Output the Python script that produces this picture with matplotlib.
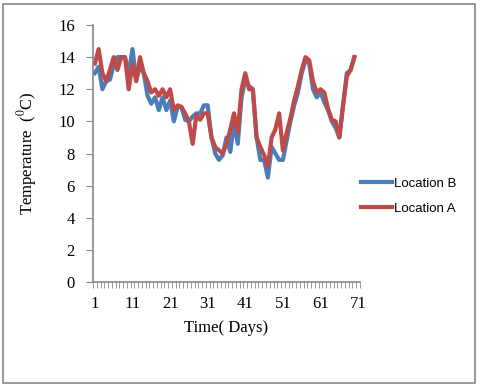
import numpy as np
import matplotlib
matplotlib.use('Agg')
import matplotlib.pyplot as plt
from matplotlib.patches import Rectangle
from matplotlib.ticker import MultipleLocator, FixedLocator

plt.rcParams['mathtext.fontset'] = 'stix'

days = np.arange(1, 71)
loc_b = [13.0, 13.4, 12.0, 12.5, 12.6, 13.5, 14.0, 14.0, 14.0, 13.0,
         14.5, 12.6, 13.4, 13.0, 11.6, 11.1, 11.5, 10.7, 11.5, 10.7,
         11.3, 10.0, 10.9, 10.9, 10.1, 10.0, 10.3, 10.5, 10.5, 11.0,
         11.0, 9.0, 8.0, 7.6, 7.9, 9.0, 8.1, 9.9, 8.6, 11.5,
         12.6, 12.2, 12.0, 9.0, 7.6, 7.6, 6.5, 8.4, 8.0, 7.6,
         7.6, 8.8, 10.0, 11.0, 11.8, 13.0, 13.8, 13.6, 12.0, 11.5,
         11.8, 11.2, 10.7, 10.0, 9.6, 9.0, 11.0, 13.0, 13.2, 14.0]
loc_a = [13.6, 14.5, 13.0, 12.5, 13.2, 14.0, 13.2, 14.0, 14.0, 12.0,
         13.6, 12.5, 14.0, 13.0, 12.5, 11.8, 12.0, 11.6, 12.0, 11.5,
         12.0, 10.7, 11.0, 10.9, 10.5, 10.0, 8.6, 10.4, 10.1, 10.5,
         10.5, 9.0, 8.4, 8.2, 8.0, 8.6, 9.5, 10.5, 9.3, 12.0,
         13.0, 12.0, 12.0, 9.0, 8.4, 7.9, 7.2, 9.0, 9.5, 10.5,
         8.2, 9.3, 10.2, 11.3, 12.2, 13.2, 14.0, 13.8, 12.5, 11.8,
         12.0, 11.8, 10.8, 10.1, 10.0, 9.0, 11.0, 12.8, 13.2, 14.0]
xticks = [1, 11, 21, 31, 41, 51, 61, 71]

fig = plt.figure(figsize=(4.8, 3.87), dpi=100)
ax = fig.add_axes([93/480, 1-282/387, 267/480, 257/387])

ax.plot(days, loc_b, color='#4A7EBB', lw=3, label='Location B', solid_joinstyle='round')
ax.plot(days, loc_a, color='#BE4B48', lw=3, label='Location A', solid_joinstyle='round')

ax.set_xlim(0.5, 71.5)
ax.set_ylim(0, 16)
ax.yaxis.set_major_locator(MultipleLocator(2))
ax.xaxis.set_major_locator(FixedLocator(xticks))
ax.xaxis.set_minor_locator(FixedLocator(np.arange(0.5, 72, 1)))

gray = '#868686'
for s in ['top', 'right']:
    ax.spines[s].set_visible(False)
for s in ['left', 'bottom']:
    ax.spines[s].set_color(gray)
    ax.spines[s].set_linewidth(1.2)
ax.tick_params(axis='x', which='major', length=0, pad=10)
ax.tick_params(axis='x', which='minor', length=4, color=gray, direction='out')
ax.tick_params(axis='y', which='major', length=5, color=gray, direction='out', pad=8)

for lab in ax.get_xticklabels() + ax.get_yticklabels():
    lab.set_fontfamily('Liberation Serif')
    lab.set_fontsize(12)

ax.set_xlabel('Time( Days)', fontfamily='Liberation Serif', fontsize=12, labelpad=6)
ax.set_ylabel(r'Temperature  ($^0$C)', fontfamily='Liberation Serif', fontsize=12, labelpad=14)

leg = ax.legend(loc='center left', bbox_to_anchor=(1.0, 0.335), frameon=False,
                prop={'family': 'Liberation Sans', 'size': 9.5},
                handlelength=2.35, handletextpad=0.1, labelspacing=0.97,
                borderaxespad=0, borderpad=0.1)

fig.patches.append(Rectangle((3/480, 4/387), 472/480, 379/387, transform=fig.transFigure,
                             fill=False, edgecolor=gray, lw=1.2))

fig.savefig('out.png', dpi=100)
